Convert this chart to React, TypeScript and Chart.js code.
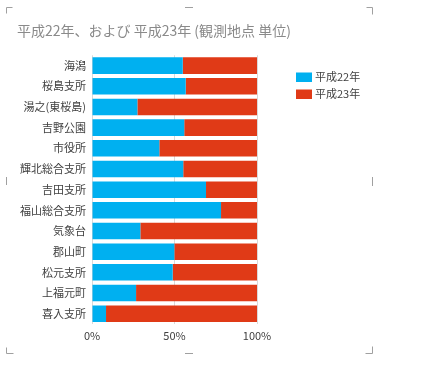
import React, { useEffect, useRef } from "react";
import { Chart, registerables } from "chart.js";

Chart.register(...registerables);

const categories = [
  "海潟",
  "桜島支所",
  "湯之(東桜島)",
  "吉野公園",
  "市役所",
  "輝北総合支所",
  "吉田支所",
  "福山総合支所",
  "気象台",
  "郡山町",
  "松元支所",
  "上福元町",
  "喜入支所",
];

const seriesH22 = [55.0, 56.8, 27.5, 55.9, 40.8, 55.3, 69.1, 78.2, 29.3, 49.9, 48.9, 26.7, 8.5];
const seriesH23 = [45.0, 43.2, 72.5, 44.1, 59.2, 44.7, 30.9, 21.8, 70.7, 50.1, 51.1, 73.3, 91.5];

const seriesNames = ["平成22年", "平成23年"];
const seriesColors = ["#00B0F0", "#E03A17"];
const xTickValues = [0, 50, 100];

const titleText = "平成22年、および 平成23年 (観測地点 単位)";

const FONT = "'Noto Sans CJK JP', 'Noto Sans', sans-serif";

const titlePlugin = {
  id: "customTitle",
  afterDraw(chart: any) {
    const ctx = chart.ctx;
    ctx.save();
    ctx.fillStyle = "#8a8a8a";
    ctx.font = `14px ${FONT}`;
    ctx.textBaseline = "middle";
    ctx.textAlign = "left";
    ctx.fillText(titleText, 17, 31);
    ctx.restore();
  },
};

const legendPlugin = {
  id: "customLegend",
  afterDraw(chart: any) {
    const ctx = chart.ctx;
    ctx.save();
    const x0 = 296;
    const y0 = 77;
    const step = 17;
    chart.data.datasets.forEach((ds: any, i: number) => {
      const cy = y0 + i * step;
      ctx.fillStyle = ds.backgroundColor;
      ctx.fillRect(x0, cy - 4.5, 16, 9.5);
      ctx.fillStyle = "#404040";
      ctx.font = `11px ${FONT}`;
      ctx.textBaseline = "middle";
      ctx.textAlign = "left";
      ctx.fillText(ds.label, x0 + 19, cy);
    });
    ctx.restore();
  },
};

const framePlugin = {
  id: "frameMarks",
  afterDraw(chart: any) {
    const ctx = chart.ctx;
    ctx.save();
    ctx.strokeStyle = "#a0a0a0";
    ctx.lineWidth = 1;
    const seg = (pts: number[][]) => {
      ctx.beginPath();
      ctx.moveTo(pts[0][0], pts[0][1]);
      for (let i = 1; i < pts.length; i++) ctx.lineTo(pts[i][0], pts[i][1]);
      ctx.stroke();
    };
    const L = 6.5, R = 372.5, T = 7.5, B = 353.5, M = 189;
    seg([[L, T + 6], [L, T], [L + 6, T]]);
    seg([[M - 4, T], [M + 4, T]]);
    seg([[R - 6, T], [R, T], [R, T + 7]]);
    seg([[R, 177], [R, 186]]);
    seg([[R, B - 7], [R, B], [R - 7, B]]);
    seg([[L, B - 6], [L, B], [L + 7, B]]);
    seg([[M - 4, B], [M + 4, B]]);
    seg([[L, 177], [L, 185]]);
    ctx.restore();
  },
};

export default function App() {
  const ref = useRef<HTMLCanvasElement | null>(null);

  useEffect(() => {
    if (!ref.current) return;
    const chart = new Chart(ref.current, {
      type: "bar",
      data: {
        labels: categories,
        datasets: [
          {
            label: seriesNames[0],
            data: seriesH22,
            backgroundColor: seriesColors[0],
            categoryPercentage: 1,
            barPercentage: 0.8,
          },
          {
            label: seriesNames[1],
            data: seriesH23,
            backgroundColor: seriesColors[1],
            categoryPercentage: 1,
            barPercentage: 0.8,
          },
        ],
      },
      options: {
        indexAxis: "y",
        animation: false,
        responsive: false,
        devicePixelRatio: 1,
        layout: { padding: { left: 18, right: 184, top: 55.3, bottom: 0 } },
        plugins: {
          legend: { display: false },
          tooltip: { enabled: false },
          title: { display: false },
        },
        scales: {
          x: {
            stacked: true,
            min: 0,
            max: 100,
            afterBuildTicks: (scale: any) => {
              scale.ticks = xTickValues.map((v) => ({ value: v }));
            },
            afterFit: (scale: any) => {
              scale.height = 56;
            },
            ticks: {
              callback: (v: any) => `${v}%`,
              color: "#404040",
              font: { family: FONT, size: 11 },
              padding: 5,
              maxRotation: 0,
            },
            grid: { color: "#d9d9d9", drawTicks: false },
            border: { display: false },
          },
          y: {
            stacked: true,
            afterFit: (scale: any) => {
              scale.width = 74;
            },
            ticks: {
              color: "#404040",
              font: { family: FONT, size: 11 },
              padding: 6,
              autoSkip: false,
            },
            grid: { display: false, drawTicks: false },
            border: { display: false },
          },
        },
      },
      plugins: [titlePlugin, legendPlugin, framePlugin],
    } as any);
    return () => chart.destroy();
  }, []);

  return (
    <div style={{ position: "fixed", left: 0, top: 0, width: 441, height: 380, background: "#fff" }}>
      <canvas ref={ref} width={441} height={380} style={{ display: "block", width: 441, height: 380 }} />
    </div>
  );
}
